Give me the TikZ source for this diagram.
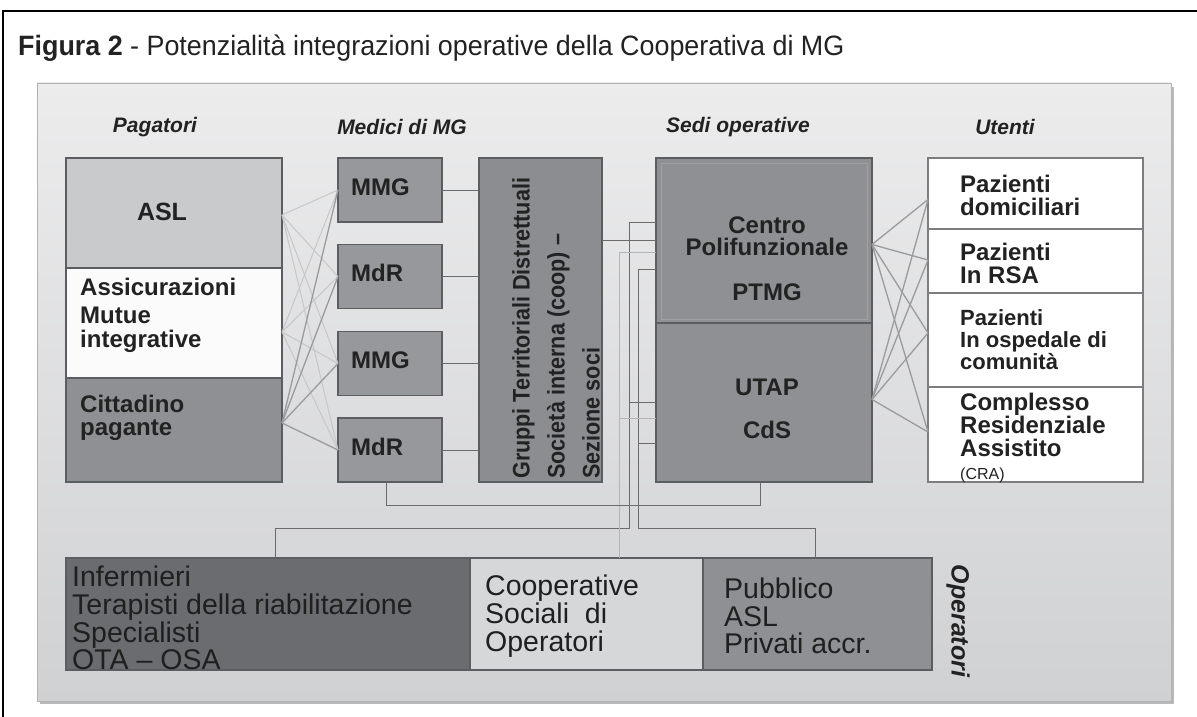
\documentclass[tikz,border=0pt]{standalone}
\usepackage{fontspec}
\setmainfont{Liberation Sans}
\newfontfamily\narrowf[FakeStretch=0.9]{Liberation Sans}
\newfontfamily\titlef[FakeStretch=0.96]{Liberation Sans}
\usetikzlibrary{calc}
\definecolor{bordc}{HTML}{5C5D60}
\definecolor{aslc}{HTML}{C9CACC}
\definecolor{assc}{HTML}{FBFBFB}
\definecolor{citc}{HTML}{8F9093}
\definecolor{mmgc}{HTML}{97989B}
\definecolor{grc}{HTML}{8C8D90}
\definecolor{sedc}{HTML}{8F9093}
\definecolor{infc}{HTML}{6B6C6F}
\definecolor{coopc}{HTML}{D6D7D9}
\definecolor{pubc}{HTML}{8F9093}
\definecolor{txtc}{HTML}{222222}
\definecolor{lnlight}{HTML}{C6C7C9}
\definecolor{lnmid}{HTML}{9A9B9D}
\definecolor{lndark}{HTML}{6A6B6D}
\definecolor{lnbus}{HTML}{B4B5B7}
\definecolor{pantop}{HTML}{ECECED}
\definecolor{panbot}{HTML}{D0D1D3}
\begin{document}
\begin{tikzpicture}[x=1pt,y=-1pt,
  box/.style={draw=bordc,line width=1.2pt,inner sep=0pt,outer sep=0pt},
  txt/.style={inner sep=0pt,text=txtc,font=\bfseries},
  hdr/.style={inner sep=0pt,text=txtc,font=\fontsize{21}{24}\selectfont\bfseries\itshape},
  plight/.style={draw=lnlight,line width=1pt},
  pmid/.style={draw=lnmid,line width=1.3pt},
  thin/.style={draw=lndark,line width=0.9pt},
  bus/.style={draw=lnbus,line width=0.9pt},
  ut/.style={draw=lnmid,line width=1.3pt},
  bot/.style={inner sep=0pt,anchor=west,align=left,text=black!88,font=\fontsize{28.5}{27.7}\selectfont}]
\useasboundingbox (0,0) rectangle (1197,717);
\fill[white] (0,0) rectangle (1197,717);
\draw[line width=1.3pt,black] (3,717) -- (3,11) -- (1197,11);
\node[anchor=west,inner sep=0pt,text=txtc] (title) at (18,48)
  {\fontsize{28}{30}\selectfont\titlef\textbf{Figura 2} - Potenzialità integrazioni operative della Cooperativa di MG};
% panel
\fill[gray!55] (40,87) rectangle (1174,704);
\shade[top color=pantop,bottom color=panbot] (37,83) rectangle (1171,701);
\draw[gray!60,line width=0.8pt] (37,83) rectangle (1171,701);
% headers
\node[hdr] (hPag) at (155,127) {Pagatori};
\node[hdr] (hMed) at (402,127) {Medici di MG};
\node[hdr] (hSed) at (738,127) {Sedi operative};
\node[hdr] (hUte) at (1005,127) {Utenti};
% Pagatori
\node[box,fill=aslc,minimum width=216pt,minimum height=110pt] (asl) at (174,213) {};
\node[box,fill=assc,minimum width=216pt,minimum height=110pt] (ass) at (174,323) {};
\node[box,fill=citc,minimum width=216pt,minimum height=104pt] (cit) at (174,430) {};
\node[txt,font=\fontsize{25}{26}\selectfont\bfseries] (taslt) at (162,212) {ASL};
\node[txt,anchor=west,align=left,font=\fontsize{24}{23.5}\selectfont\bfseries] (tass) at (80,315) {Assicurazioni\\[5pt]Mutue\\integrative};
\node[txt,anchor=west,align=left,font=\fontsize{24}{23.5}\selectfont\bfseries] (tcit) at (80,418) {Cittadino\\pagante};
% MMG boxes
\node[box,fill=mmgc,minimum width=104pt,minimum height=64pt] (m1) at (390,190) {};
\node[box,fill=mmgc,minimum width=104pt,minimum height=64pt] (m2) at (390,276.5) {};
\node[box,fill=mmgc,minimum width=104pt,minimum height=64pt] (m3) at (390,363.5) {};
\node[box,fill=mmgc,minimum width=104pt,minimum height=64pt] (m4) at (390,450) {};
\node[txt,anchor=west,font=\fontsize{24}{26}\selectfont\bfseries] (tm1) at (351,187) {MMG};
\node[txt,anchor=west,font=\fontsize{24}{26}\selectfont\bfseries] (tm2) at (351,273) {MdR};
\node[txt,anchor=west,font=\fontsize{24}{26}\selectfont\bfseries] (tm3) at (351,360) {MMG};
\node[txt,anchor=west,font=\fontsize{24}{26}\selectfont\bfseries] (tm4) at (351,447) {MdR};
% Gruppi
\node[box,fill=grc,minimum width=123pt,minimum height=324pt] (gr) at (540.5,320) {};
\node[txt,rotate=90,anchor=north west,align=left,font=\fontsize{24}{35}\selectfont\narrowf\bfseries] (tgr) at (512,479)
  {Gruppi Territoriali Distrettuali\\Società interna (coop) –\\Sezione soci};
% Sedi
\node[box,fill=sedc,minimum width=216pt,minimum height=165pt] (s1) at (764,240.5) {};
\node[box,fill=sedc,minimum width=216pt,minimum height=159pt] (s2) at (764,402.5) {};
\draw[sedc!85!white,line width=0.5pt] (661,163) rectangle (867,319);
\node[txt,align=center,font=\fontsize{24}{22}\selectfont\bfseries] (tcen) at (767,236) {Centro\\Polifunzionale};
\node[txt,font=\fontsize{24}{26}\selectfont\bfseries] (tptm) at (767,292) {PTMG};
\node[txt,font=\fontsize{24}{26}\selectfont\bfseries] (tuta) at (767,387) {UTAP};
\node[txt,font=\fontsize{24}{26}\selectfont\bfseries] (tcds) at (767,430) {CdS};
% Utenti
\node[box,draw=bordc!80,fill=white,minimum width=215pt,minimum height=71pt] (u1) at (1035.5,193.5) {};
\node[box,draw=bordc!80,fill=white,minimum width=215pt,minimum height=64pt] (u2) at (1035.5,261) {};
\node[box,draw=bordc!80,fill=white,minimum width=215pt,minimum height=94pt] (u3) at (1035.5,340) {};
\node[box,draw=bordc!80,fill=white,minimum width=215pt,minimum height=95pt] (u4) at (1035.5,434.5) {};
\node[txt,anchor=west,align=left,font=\fontsize{24}{23}\selectfont\bfseries] (tu1) at (960,195) {Pazienti\\domiciliari};
\node[txt,anchor=west,align=left,font=\fontsize{24}{23}\selectfont\bfseries] (tu2) at (960,263) {Pazienti\\In RSA};
\node[txt,anchor=west,align=left,font=\fontsize{22}{22}\selectfont\bfseries] (tu3) at (960,340) {Pazienti\\In ospedale di\\comunità};
\node[txt,anchor=west,align=left,font=\fontsize{24}{23}\selectfont\bfseries] (tu4) at (960,438) {Complesso\\Residenziale\\Assistito\\{\fontsize{16}{18}\selectfont\mdseries (CRA)}};
% bottom boxes
\node[box,fill=infc,minimum width=404pt,minimum height=112pt] (b1) at (268,614) {};
\node[box,fill=coopc,minimum width=233pt,minimum height=112pt] (b2) at (586.5,614) {};
\node[box,fill=pubc,minimum width=229pt,minimum height=112pt] (b3) at (817.5,614) {};
\node[bot] (tb1) at (72,618) {Infermieri\\Terapisti della riabilitazione\\Specialisti\\OTA – OSA};
\node[bot] (tb2) at (485,616) {Cooperative\\Sociali\ \ di\\Operatori};
\node[bot] (tb3) at (724,616) {Pubblico\\ASL\\Privati accr.};
\node[hdr,rotate=-90,font=\fontsize{25}{26}\selectfont\bfseries\itshape] (top) at (958,621) {Operatori};
% connectors Pagatori -> MMG
\foreach \m in {m1,m2,m3,m4}{
  \draw[plight] ([yshift=-2pt]asl.east) -- (\m.west);
  \draw[plight] ([yshift=-9pt]ass.east) -- (\m.west);
}
\foreach \m in {m1,m2,m3,m4}{
  \draw[pmid] ([yshift=7pt]cit.east) -- (\m.west);
}
% MMG -> Gruppi
\foreach \m in {m1,m2,m3,m4}{
  \draw[thin] (\m.east) -- (\m.east -| gr.west);
}
% Gruppi -> Sedi
\draw[thin] (s1.west -| gr.east) -- (s1.west);
% bus lines
\coordinate (busA) at (629,528);
\coordinate (busB) at (638,528);
\coordinate (busC) at (619,418);
\draw[thin] ([yshift=18.5pt]s1.west) -| (busA) -| (b1.north -| 275,0);
\draw[thin] (s2.west) -- (s2.west -| busA);
\draw[thin] ([yshift=-28.5pt]s1.west) -| (busB) -| (b3.north -| 815,0);
\draw[thin] ([yshift=-40.5pt]s2.west) -- ([yshift=-40.5pt]s2.west -| busB);
\draw[bus] ([yshift=-11.5pt]s1.west) -| (b2.north -| busC);
\draw[bus] ([yshift=-15.5pt]s2.west) -- (busC);
% MdR -> Sedi bottom
\draw[thin] ([xshift=-4pt]m4.south) -- ++(0,23) -| ([xshift=-4pt]s2.south);
% Sedi -> Utenti
\foreach \u/\d in {u1/-6,u2/1,u3/7,u4/2.5}{
  \draw[ut] ([yshift=-4pt]s1.east) -- ([yshift=\d pt]\u.west);
  \draw[ut] ([yshift=3pt]s2.east) -- ([yshift=\d pt]\u.west);
}
\end{tikzpicture}
\end{document}
